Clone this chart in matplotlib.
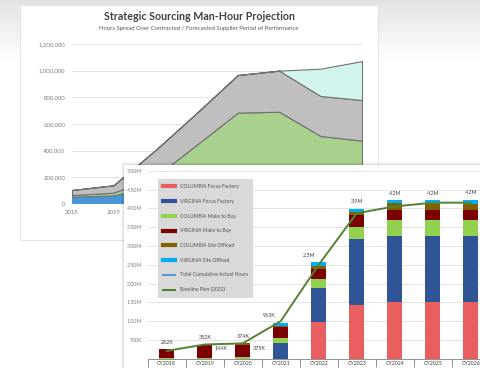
import numpy as np
import matplotlib.pyplot as plt
from matplotlib.patches import Rectangle
from matplotlib.lines import Line2D

plt.rcParams['font.family'] = ['Lato', 'DejaVu Sans']

# ---- back chart: man-hour projection (area) ----
years = [2018, 2019, 2020, 2021, 2022, 2023, 2024, 2025]
actual_hours = [55000, 65000, 130000, 0, 0, 0, 0, 0]
contracted = [12000, 20000, 70000, 442000, 685000, 692000, 510000, 475000]
forecast = [38000, 55000, 200000, 238000, 282000, 308000, 300000, 305000]
new_scope = [0, 0, 0, 0, 0, 0, 205000, 292000]
back_yticks = [0, 200000, 400000, 600000, 800000, 1000000, 1200000]

# ---- front chart: cumulative hours (stacked bars) ----
cats = ['CY2018', 'CY2019', 'CY2020', 'CY2021', 'CY2022', 'CY2023', 'CY2024', 'CY2025', 'CY2026']
col_focus = [0, 0, 0, 0, 0.99, 1.43, 1.51, 1.51, 1.51]
vir_focus = [0, 0, 0, 0.42, 0.89, 1.75, 1.76, 1.76, 1.76]
col_m2b = [0.01, 0.02, 0.06, 0.13, 0.24, 0.32, 0.41, 0.41, 0.41]
vir_m2b = [0.24, 0.34, 0.31, 0.30, 0.28, 0.31, 0.27, 0.27, 0.27]
col_off = [0.01, 0.02, 0.04, 0.03, 0.06, 0.09, 0.18, 0.17, 0.17]
vir_off = [0, 0, 0, 0.08, 0.10, 0.09, 0.09, 0.10, 0.11]
baseline = [0.21, 0.38, 0.41, 1.0, 2.5, 3.87, 4.05, 4.15, 4.15]
top_labels = ['262K', '382K', '374K', '963K', '2.5M', '3.9M', '4.2M', '4.2M', '4.2M']
side_labels = ['144K', '375K']
front_yticks = [0.5, 1.0, 1.5, 2.0, 2.5, 3.0, 3.5, 4.0, 4.5, 5.0]
front_ylabels = ['500K', '1.00M', '1.50M', '2.00M', '2.50M', '3.00M', '3.50M', '4.00M', '4.50M', '5.00M']

series = [
    ('COLUMBIA Focus Factory', col_focus, '#E95F5F'),
    ('VIRGINIA Focus Factory', vir_focus, '#2F5597'),
    ('COLUMBIA Make to Buy', col_m2b, '#92D050'),
    ('VIRGINIA Make to Buy', vir_m2b, '#7B0000'),
    ('COLUMBIA Site Offload', col_off, '#806000'),
    ('VIRGINIA Site Offload', vir_off, '#00B0F0'),
]

W, H = 481, 368
fig = plt.figure(figsize=(W / 100, H / 100), dpi=100)


def fx(x):
    return x / W


def fy(y):
    return 1 - y / H


# background with a soft gray band at the top
bg = fig.add_axes([0, 0, 1, 1], zorder=-10)
bg.axis('off')
grad = np.linspace(0.89, 1.0, 60)[:, None] * np.ones((60, 2))
bg.imshow(np.dstack([grad, grad, grad]), extent=[0, 1, fy(60), 1], aspect='auto')
bg.set_xlim(0, 1)
bg.set_ylim(0, 1)

# back panel
fig.add_artist(Rectangle((fx(20), fy(240)), fx(358), fy(5) - fy(240),
                         transform=fig.transFigure, facecolor='white',
                         edgecolor='#E2E2E2', lw=0.6, zorder=-5))

ax1 = fig.add_axes([fx(72), fy(204), fx(362) - fx(72), fy(44) - fy(204)], zorder=0)
ax1.set_facecolor('none')
polys = ax1.stackplot(years, actual_hours, contracted, forecast, new_scope,
                      colors=['#4A94DA', '#A9D18E', '#BFBFBF', '#D4F5EE'])
for p in polys[1:]:
    p.set_edgecolor('#707070')
    p.set_linewidth(0.8)
ax1.set_xlim(2018, 2025)
ax1.set_ylim(0, 1200000)
ax1.set_yticks(back_yticks)
ax1.set_yticklabels([f'{v:,}' for v in back_yticks])
ax1.set_xticks(years)
ax1.set_xticklabels([str(y) for y in years])
ax1.tick_params(length=0, labelsize=4.3, labelcolor='#7F7F7F', pad=5)
ax1.tick_params(axis='x', pad=4)
ax1.grid(axis='y', color='#DDDDDD', lw=0.6)
ax1.set_axisbelow(True)
for s in ax1.spines.values():
    s.set_visible(False)

fig.text(fx(199), fy(16.5), 'Strategic Sourcing Man-Hour Projection', ha='center', va='center',
         fontsize=7.7, fontweight='bold', color='#404040')
fig.text(fx(199), fy(28.5), 'Hours Spread Over Contracted / Forecasted Supplier Period of Performance',
         ha='center', va='center', fontsize=4.3, color='#595959')

# front panel with a soft shadow
for k, a in [(3, 0.03), (2, 0.04), (1, 0.05)]:
    fig.add_artist(Rectangle((fx(124 - k), fy(372)), fx(370), fy(165 - k) - fy(372),
                             transform=fig.transFigure, facecolor='black', alpha=a,
                             edgecolor='none', zorder=0.5))
fig.add_artist(Rectangle((fx(124), fy(372)), fx(370), fy(165) - fy(372),
                         transform=fig.transFigure, facecolor='white',
                         edgecolor='none', zorder=1))

ax2 = fig.add_axes([fx(147.7), fy(358.8), fx(9 * 38), fy(170.7) - fy(358.8)], zorder=2)
ax2.set_facecolor('none')
x = np.arange(len(cats))
bottom = np.zeros(len(cats))
for name, vals, color in series:
    ax2.bar(x, vals, 0.4, bottom=bottom, color=color, label=name, zorder=2)
    bottom += np.array(vals)
ax2.plot(x, baseline, color='#548235', lw=1.4, zorder=3)

for i, (t, lab) in enumerate(zip(bottom, top_labels)):
    dx = -0.3 if i == 3 else (-0.25 if i == 4 else 0)
    ax2.annotate(lab, (i + dx, t), xytext=(0, 5), textcoords='offset points',
                 ha='center', va='center', fontsize=3.9, color='#404040', zorder=4)
for i, lab in zip([1, 2], side_labels):
    ax2.text(i + 0.42, 0.28, lab, ha='center', va='center', fontsize=3.9,
             color='#404040', zorder=4)

ax2.set_xlim(-0.5, len(cats) - 0.5)
ax2.set_ylim(0, 5.0)
ax2.set_yticks(front_yticks)
ax2.set_yticklabels(front_ylabels)
ax2.tick_params(axis='y', length=0, labelsize=3.8, labelcolor='#7F7F7F', pad=4)
ax2.set_xticks(np.arange(-0.5, len(cats)), minor=False)
ax2.set_xticklabels([])
ax2.set_xticks(x, minor=True)
ax2.set_xticklabels(cats, minor=True)
ax2.tick_params(axis='x', which='major', length=6, color='#808080', width=0.6)
ax2.tick_params(axis='x', which='minor', length=0, labelsize=3.8, labelcolor='#404040', pad=1.5)
ax2.grid(axis='y', color='#DDDDDD', lw=0.6, zorder=0)
ax2.set_axisbelow(True)
for s in ['left', 'right', 'top']:
    ax2.spines[s].set_visible(False)
ax2.spines['bottom'].set_color('#808080')
ax2.spines['bottom'].set_linewidth(0.6)

handles = [Line2D([], [], color=c, lw=3) for _, _, c in series]
handles += [Line2D([], [], color='#5B9BD5', lw=1.5), Line2D([], [], color='#548235', lw=1.5)]
labels = [n for n, _, _ in series] + ['Total Cumulative Actual Hours', 'Baseline Plan (2022)']
leg = fig.legend(handles, labels, loc='upper left', bbox_to_anchor=(fx(155), fy(176.5)),
                 fontsize=3.6, labelspacing=1.95, handlelength=2.5, handletextpad=0.9,
                 borderpad=1.0, frameon=True, fancybox=False, facecolor='#D9D9D9',
                 edgecolor='none', framealpha=1)
for t in leg.get_texts():
    t.set_color('#505050')
leg.set_zorder(5)

fig.savefig('out.png', dpi=100)
